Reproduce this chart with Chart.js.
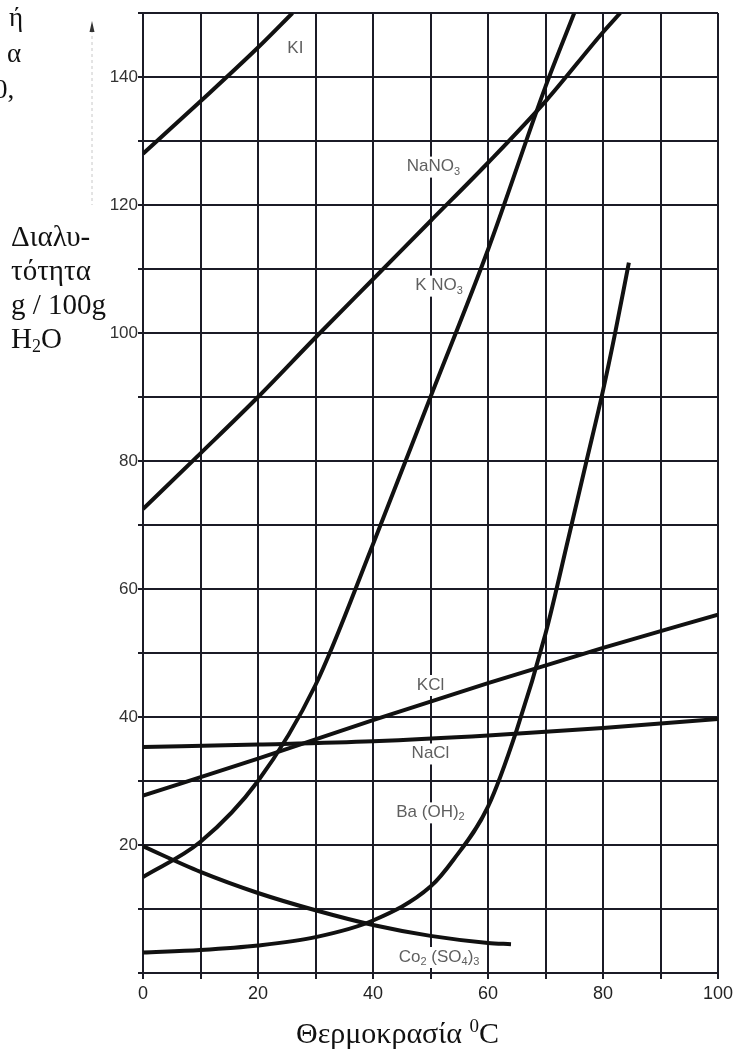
<!DOCTYPE html>
<html>
<head>
<meta charset="utf-8">
<script src="https://cdn.jsdelivr.net/npm/chart.js@4.4.1/dist/chart.umd.min.js"></script>
<style>
body{margin:0;background:#fff;}
#wrap{position:relative;width:739px;height:1057px;overflow:hidden;}
.serif{position:absolute;font-family:"Liberation Serif","DejaVu Serif",serif;color:#111;white-space:nowrap;}
</style>
</head>
<body>
<div id="wrap">
<canvas id="chart" width="739" height="1057"></canvas>
<div class="serif" style="left:9px;top:2px;font-size:27px;">ή</div>
<div class="serif" style="left:7px;top:38px;font-size:27px;">α</div>
<div class="serif" style="left:-6px;top:74px;font-size:27px;">0,</div>
<div class="serif" style="left:11px;top:219px;font-size:29px;line-height:34px;">Διαλυ-<br>τότητα<br>g / 100g<br>H<sub style="font-size:18px;vertical-align:-4px;line-height:0">2</sub>O</div>
<div class="serif" style="left:296px;top:1016px;font-size:30px;">Θερμοκρασία <sup style="font-size:19px;vertical-align:11px;line-height:0">0</sup>C</div>
</div>
<script>
// temperature (°C) and solubility (g / 100g H2O)
const kiT = [0, 10, 20, 26];
const kiS = [128, 136.2, 144.6, 150];

const nano3T = [0, 10, 20, 30, 40, 50, 60, 70, 80, 83];
const nano3S = [72.5, 81.2, 90, 99.3, 108.4, 117.5, 126.6, 136.2, 147, 150];

const kno3T = [0, 10, 20, 30, 40, 50, 60, 70, 75];
const kno3S = [15, 20.5, 30, 45, 67, 90, 113, 138.5, 150];

const kclT = [0, 20, 40, 60, 80, 100];
const kclS = [27.7, 33.5, 39.5, 45.3, 50.8, 56];

const naclT = [0, 20, 40, 60, 80, 100];
const naclS = [35.3, 35.7, 36.2, 37.1, 38.3, 39.7];

const baT = [0, 10, 20, 30, 40, 50, 54, 60, 65, 70, 74, 77, 80, 82, 84.5];
const baS = [3.2, 3.6, 4.3, 5.6, 8.2, 13.5, 17.7, 26, 38, 53, 68, 79.5, 91, 99.5, 111];

const coT = [0, 10, 20, 30, 40, 50, 60, 64];
const coS = [19.8, 15.8, 12.5, 9.8, 7.5, 5.8, 4.7, 4.5];

// curve names, as [text, subscript] pieces
const curveNames = [
  [["KI", ""]],
  [["NaNO", "3"]],
  [["K NO", "3"]],
  [["KCl", ""]],
  [["NaCl", ""]],
  [["Ba (OH)", "2"]],
  [["Co", "2"], [" (SO", "4"], [")", "3"]]
];
const nameAtT = [26.5, 50.5, 51.5, 50, 50, 50, 51.5];
const nameAtS = [144.5, 126, 107.4, 45, 34.3, 25.1, 2.5];

function pts(t, s){
  return t.map((v, i) => ({x: v, y: s[i]}));
}

const series = [[kiT, kiS], [nano3T, nano3S], [kno3T, kno3S], [kclT, kclS], [naclT, naclS], [baT, baS], [coT, coS]];

const gridColor = "#1b1b26";

const curveLabels = {
  id: "curveLabels",
  beforeDatasetsDraw(chart){
    const ctx = chart.ctx;
    const xs = chart.scales.x, ys = chart.scales.y;
    ctx.save();
    ctx.textBaseline = "middle";
    curveNames.forEach((parts, i) => {
      const big = "17px 'Liberation Sans', Arial, sans-serif";
      const small = "11px 'Liberation Sans', Arial, sans-serif";
      let w = 0;
      parts.forEach(p => {
        ctx.font = big; w += ctx.measureText(p[0]).width;
        ctx.font = small; w += ctx.measureText(p[1]).width;
      });
      const cx = xs.getPixelForValue(nameAtT[i]);
      const cy = ys.getPixelForValue(nameAtS[i]);
      let x = cx - w / 2;
      ctx.fillStyle = "#fff";
      ctx.fillRect(x - 3, cy - 10, w + 6, 21);
      ctx.fillStyle = "#5f5f5f";
      parts.forEach(p => {
        ctx.font = big; ctx.fillText(p[0], x, cy);
        x += ctx.measureText(p[0]).width;
        ctx.font = small; ctx.fillText(p[1], x, cy + 5);
        x += ctx.measureText(p[1]).width;
      });
    });
    ctx.restore();
  },
  afterDraw(chart){
    // faint arrow beside the y axis
    const ctx = chart.ctx;
    ctx.save();
    ctx.strokeStyle = "#c8c8c8";
    ctx.lineWidth = 1;
    ctx.setLineDash([3, 3]);
    ctx.beginPath();
    ctx.moveTo(92, 30);
    ctx.lineTo(92, 205);
    ctx.stroke();
    ctx.setLineDash([]);
    ctx.fillStyle = "#333";
    ctx.beginPath();
    ctx.moveTo(92, 21);
    ctx.lineTo(89.5, 32);
    ctx.lineTo(94.5, 32);
    ctx.closePath();
    ctx.fill();
    ctx.restore();
  }
};

new Chart(document.getElementById("chart"), {
  type: "line",
  data: {
    datasets: series.map(s => ({
      data: pts(s[0], s[1]),
      borderColor: "#111",
      borderWidth: 4,
      pointRadius: 0,
      fill: false,
      cubicInterpolationMode: "monotone"
    }))
  },
  options: {
    responsive: false,
    animation: false,
    layout: {padding: {left: 0, right: 21, top: 13, bottom: 0}},
    plugins: {legend: {display: false}, tooltip: {enabled: false}},
    scales: {
      x: {
        type: "linear",
        min: 0, max: 100,
        afterFit: s => { s.height = 84; },
        grid: {color: gridColor, lineWidth: 2, tickLength: 6},
        border: {color: gridColor, width: 2},
        ticks: {
          stepSize: 10,
          autoSkip: false,
          maxRotation: 0,
          padding: 4,
          color: "#222",
          font: {family: "'Liberation Sans', Arial, sans-serif", size: 18},
          callback: v => v % 20 === 0 ? v : ""
        }
      },
      y: {
        min: 0, max: 150,
        afterFit: s => { s.width = 143; },
        grid: {color: gridColor, lineWidth: 2, tickLength: 5},
        border: {color: gridColor, width: 2},
        ticks: {
          stepSize: 10,
          autoSkip: false,
          padding: 0,
          color: "#333",
          font: {family: "'Liberation Sans', Arial, sans-serif", size: 17},
          callback: v => (v % 20 === 0 && v > 0 && v < 150) ? v : ""
        }
      }
    }
  },
  plugins: [curveLabels]
});
</script>
</body>
</html>
